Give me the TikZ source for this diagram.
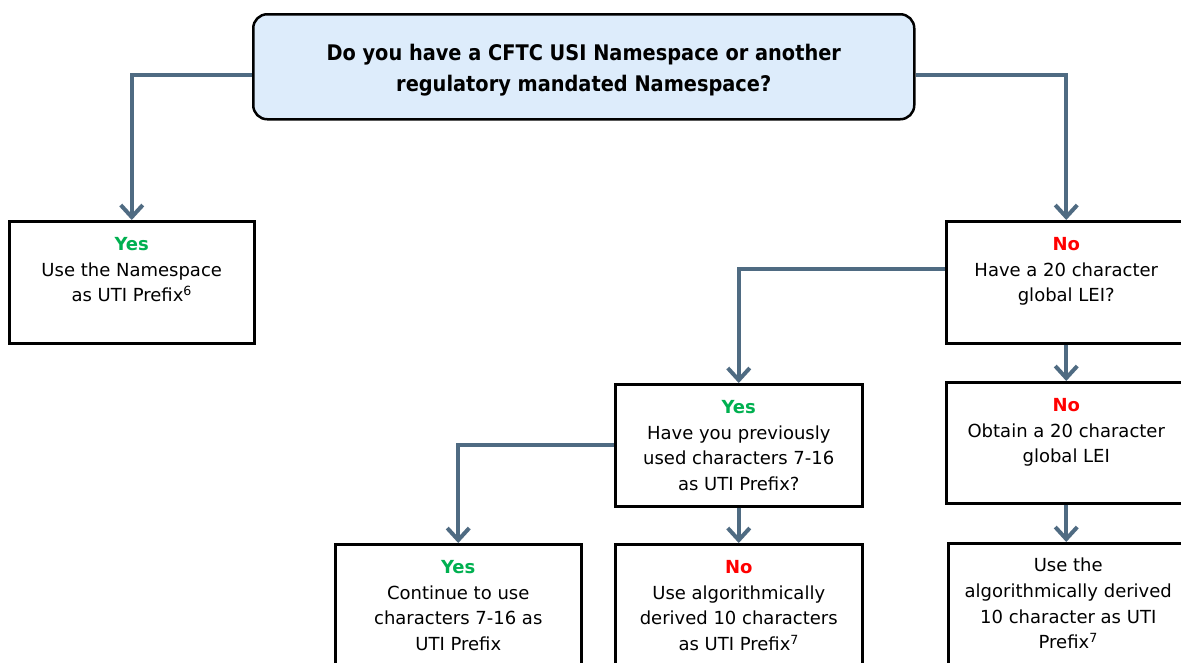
\documentclass[tikz,border=0pt]{standalone}
\usepackage{fontspec}
\setmainfont{DejaVu Sans}
\newfontfamily\topfont{DejaVu Sans Bold}[FakeStretch=0.9]
\usetikzlibrary{arrows.meta}
\definecolor{connblue}{HTML}{4F6B82}
\definecolor{topfill}{HTML}{DDECFB}
\definecolor{yesgreen}{HTML}{00B050}
\definecolor{nored}{HTML}{FF0000}
\tikzset{
  x=1pt, y=-1pt,
  box/.style={draw=black, line width=2.5pt, fill=white, rectangle, anchor=north west, inner sep=0pt},
  topbox/.style={draw=black, line width=2.5pt, fill=topfill, rounded corners=14pt, anchor=north west, inner sep=0pt},
  toptxt/.style={align=center, inner sep=0pt, font={\topfont\fontsize{21.5}{31}\selectfont}},
  txt/.style={align=center, inner sep=0pt, anchor=north, font={\fontsize{18}{25.7}\selectfont}},
  conn/.style={draw=connblue, line width=4pt, -{Straight Barb[length=12pt,width=22pt]}},
}
\newcommand{\yes}{\textcolor{yesgreen}{\textbf{Yes}}}
\newcommand{\no}{\textcolor{nored}{\textbf{No}}}
\begin{document}
\begin{tikzpicture}
\useasboundingbox (0,0) rectangle (1181,662);
\fill[white] (0,0) rectangle (1181,662);
% top question
\node[topbox, minimum width=661pt, minimum height=105pt] (top) at (252,13) {};
\node[toptxt] (tq) at ([yshift=-3.5pt]top.center)
  {Do you have a CFTC USI Namespace or another\\regulatory mandated Namespace?};
% boxes
\node[box, minimum width=245pt, minimum height=122pt] (b1) at (8,220) {};
\node[box, minimum width=240pt, minimum height=122pt] (r1) at (945,220) {};
\node[box, minimum width=247pt, minimum height=122pt] (mid) at (614,383) {};
\node[box, minimum width=240pt, minimum height=121pt] (r2) at (945,381) {};
\node[box, minimum width=240pt, minimum height=140pt] (r3) at (947,542) {};
\node[box, minimum width=246pt, minimum height=140pt] (bl) at (334,543) {};
\node[box, minimum width=247pt, minimum height=140pt] (bm) at (614,543) {};
% texts
\node[txt] (t1) at ([yshift=-17pt]b1.north) {\yes\\Use the Namespace\\as UTI Prefix\textsuperscript{6}};
\node[txt] (t2) at ([yshift=-17pt]r1.north) {\no\\Have a 20 character\\global LEI?};
\node[txt] (t3) at ([yshift=-17pt]mid.north) {\yes\\Have you previously\\used characters 7-16\\as UTI Prefix?};
\node[txt] (t4) at ([yshift=-17pt]r2.north) {\no\\Obtain a 20 character\\global LEI};
\node[txt] (t5) at ([yshift=-16pt]r3.north) {Use the\\algorithmically derived\\10 character as UTI\\Prefix\textsuperscript{7}};
\node[txt] (t6) at ([yshift=-17pt]bl.north) {\yes\\Continue to use\\characters 7-16 as\\UTI Prefix};
\node[txt] (t7) at ([yshift=-17pt]bm.north) {\no\\Use algorithmically\\derived 10 characters\\as UTI Prefix\textsuperscript{7}};
% connectors
\draw[conn] ([yshift=-8pt]top.west) -| (b1.north);
\draw[conn] ([yshift=-8pt]top.east) -| (r1.north);
\draw[conn] ([yshift=13pt]r1.west) -| (mid.north);
\draw[conn] (mid.west) -| (bl.north);
\draw[conn] (mid.south) -- (bm.north);
\draw[conn] (r1.south) -- (r2.north);
\draw[conn] (r2.south) -- (r2.south |- r3.north);
\end{tikzpicture}
\end{document}
